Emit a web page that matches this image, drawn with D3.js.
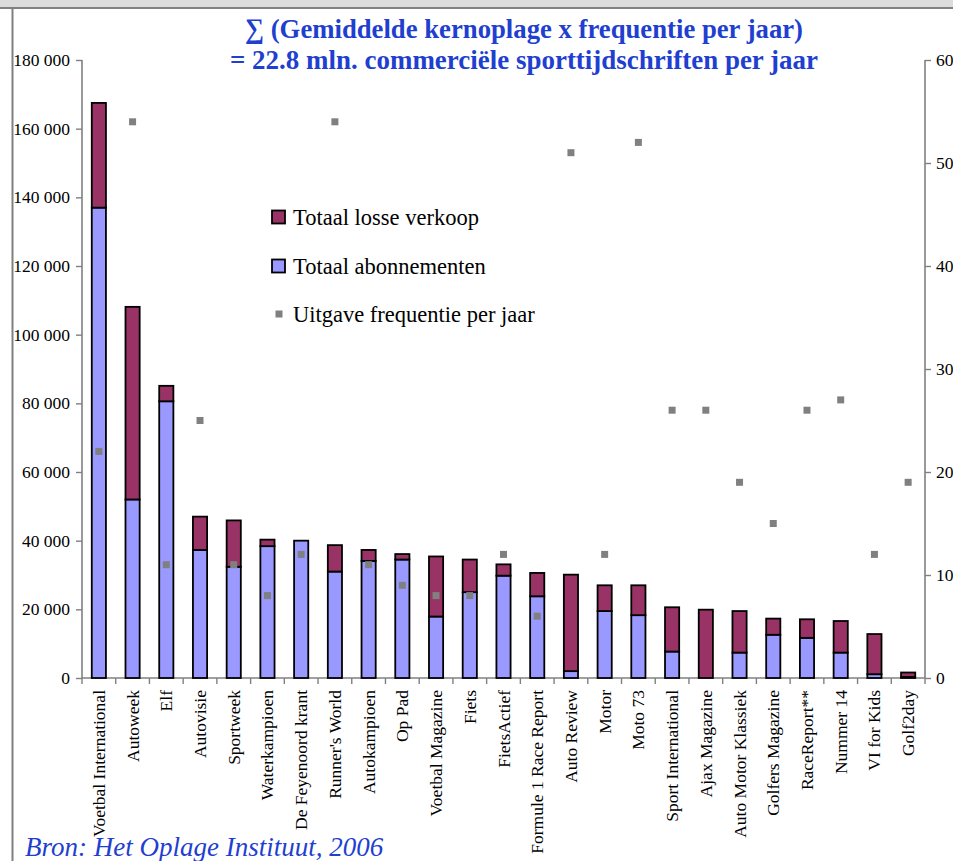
<!DOCTYPE html>
<html>
<head>
<meta charset="utf-8">
<script src="https://cdn.jsdelivr.net/npm/d3@7"></script>
<style>
  html, body { margin: 0; padding: 0; background: #ffffff; }
  svg { display: block; }
</style>
</head>
<body>
<svg id="chart" width="953" height="861"></svg>
<script>
const categories = ["Voetbal International","Autoweek","Elf","Autovisie","Sportweek","Waterkampioen","De Feyenoord krant","Runner's World","Autokampioen","Op Pad","Voetbal Magazine","Fiets","FietsActief","Formule 1 Race Report","Auto Review","Motor","Moto 73","Sport International","Ajax Magazine","Auto Motor Klassiek","Golfers Magazine","RaceReport**","Nummer 14","VI for Kids","Golf2day"];
const abonnementen = [137000,52000,80600,37300,32400,38400,40000,31000,34100,34500,17900,25000,29800,23800,2000,19500,18300,7700,0,7400,12600,11700,7400,1100,300];
const losseVerkoop = [30500,56100,4500,9700,13500,1900,0,7700,3200,1600,17500,9500,3300,6800,28100,7500,8700,12900,19900,12100,4700,5400,9200,11700,1300];
const frequentie = [22,54,11,25,11,8,12,54,11,9,8,8,12,6,51,12,52,26,26,19,15,26,27,12,19];
const leftTicks = [0,20000,40000,60000,80000,100000,120000,140000,160000,180000];
const rightTicks = [0,10,20,30,40,50,60];
const titleLines = ["\u2211 (Gemiddelde kernoplage x frequentie per jaar)", "= 22.8 mln. commerci\u00eble sporttijdschriften per jaar"];
const legendLabels = ["Totaal losse verkoop","Totaal abonnementen","Uitgave frequentie per jaar"];
const sourceText = "Bron:  Het Oplage Instituut, 2006";

(function () {
const W = 953, H = 861;
const pLeft = 82, pRight = 925, pTop = 60, pBottom = 678;
const serif = "'Liberation Serif','Times New Roman',serif";
const blueText = "#1f3fd0";
const colAbon = "#9999ff", colLos = "#993366", colMark = "#808080";

const svg = d3.select("#chart");
svg.append("rect").attr("width", W).attr("height", H).attr("fill", "#fff");

// frame
svg.append("rect").attr("x",0).attr("y",0).attr("width",W).attr("height",8).attr("fill","#dcdcdc");
svg.append("line").attr("x1",0).attr("x2",W).attr("y1",8).attr("y2",8).attr("stroke","#808080").attr("stroke-width",2);
svg.append("line").attr("x1",12.5).attr("x2",12.5).attr("y1",8).attr("y2",H).attr("stroke","#808080").attr("stroke-width",2);

const x = d3.scaleBand().domain(categories).range([pLeft, pRight]).paddingInner(0.58).paddingOuter(0.29);
const yL = d3.scaleLinear().domain([0,180000]).range([pBottom, pTop]);
const yR = d3.scaleLinear().domain([0,60]).range([pBottom, pTop]);

const fmt = v => d3.format(",")(v).replace(/,/g, " ");
const gL = svg.append("g").attr("transform", `translate(${pLeft},0)`)
  .call(d3.axisLeft(yL).tickValues(leftTicks).tickFormat(fmt).tickSize(6).tickPadding(6));
const gR = svg.append("g").attr("transform", `translate(${pRight},0)`)
  .call(d3.axisRight(yR).tickValues(rightTicks).tickSize(6).tickPadding(5));
const step = (pRight - pLeft) / categories.length;
const boundaries = d3.range(categories.length + 1).map(i => pLeft + i * step);
const gB = svg.append("g");
gB.append("line").attr("class","dom").attr("x1", pLeft).attr("x2", pRight).attr("y1", pBottom).attr("y2", pBottom);
gB.selectAll("line.tk").data(boundaries).enter().append("line").attr("class","tk")
  .attr("x1", d => d).attr("x2", d => d).attr("y1", pBottom).attr("y2", pBottom + 6);

[gL, gR].forEach(g => {
  g.select(".domain").attr("stroke", "#808080").attr("stroke-width", 1.6).attr("d", `M0,${pBottom}V${pTop}`);
  g.selectAll(".tick line").attr("stroke", "#808080").attr("stroke-width", 1.4);
  g.selectAll(".tick text").attr("font-family", serif).attr("font-size", "17.5px").attr("fill", "#000");
});
gB.selectAll("line").attr("stroke", "#808080").attr("stroke-width", 1.4);
gB.select("line.dom").attr("stroke-width", 1.6);

// bars
const bars = svg.append("g");
categories.forEach((c, i) => {
  const bx = x(c), bw = x.bandwidth();
  const a = abonnementen[i], l = losseVerkoop[i];
  bars.append("rect").attr("x", bx).attr("width", bw)
    .attr("y", yL(a)).attr("height", yL(0) - yL(a))
    .attr("fill", colAbon).attr("stroke", "#000").attr("stroke-width", 1.8);
  bars.append("rect").attr("x", bx).attr("width", bw)
    .attr("y", yL(a + l)).attr("height", yL(a) - yL(a + l))
    .attr("fill", colLos).attr("stroke", "#000").attr("stroke-width", 1.8);
});

// markers
svg.append("g").selectAll("rect").data(categories).enter().append("rect")
  .attr("x", d => x(d) + x.bandwidth()/2 - 3.5)
  .attr("y", (d,i) => yR(frequentie[i]) - 3.5)
  .attr("width", 7).attr("height", 7).attr("fill", colMark);

// category labels
svg.append("g").selectAll("text").data(categories).enter().append("text")
  .attr("transform", d => `translate(${x(d) + x.bandwidth()/2 + 6},${pBottom + 12}) rotate(-90)`)
  .attr("text-anchor", "end")
  .attr("font-family", serif).attr("font-size", "17.5px").attr("fill", "#000")
  .text(d => d);

// title
svg.append("g").selectAll("text").data(titleLines).enter().append("text")
  .attr("x", 524).attr("y", (d,i) => 38 + i * 31)
  .attr("text-anchor", "middle")
  .attr("font-family", serif).attr("font-weight", "bold").attr("font-size", "28px")
  .attr("fill", blueText)
  .attr("textLength", (d,i) => i === 0 ? 558 : 588)
  .attr("lengthAdjust", "spacingAndGlyphs")
  .text(d => d);

// legend
const lg = svg.append("g");
const legendY = [217, 266, 314];
legendLabels.forEach((lab, i) => {
  if (i < 2) {
    lg.append("rect").attr("x", 272).attr("y", legendY[i] - 6.5).attr("width", 13).attr("height", 13)
      .attr("fill", i === 0 ? colLos : colAbon).attr("stroke", "#000").attr("stroke-width", 1.8);
  } else {
    lg.append("rect").attr("x", 275.5).attr("y", legendY[i] - 3.5).attr("width", 7).attr("height", 7).attr("fill", colMark);
  }
  lg.append("text").attr("x", 293).attr("y", legendY[i] + 7.5)
    .attr("font-family", serif).attr("font-size", "22.5px").attr("fill", "#000").text(lab);
});

// source
svg.append("text").attr("x", 25).attr("y", 856)
  .attr("font-family", serif).attr("font-style", "italic").attr("font-size", "27px")
  .attr("fill", blueText).text(sourceText);
})();
</script>
</body>
</html>
